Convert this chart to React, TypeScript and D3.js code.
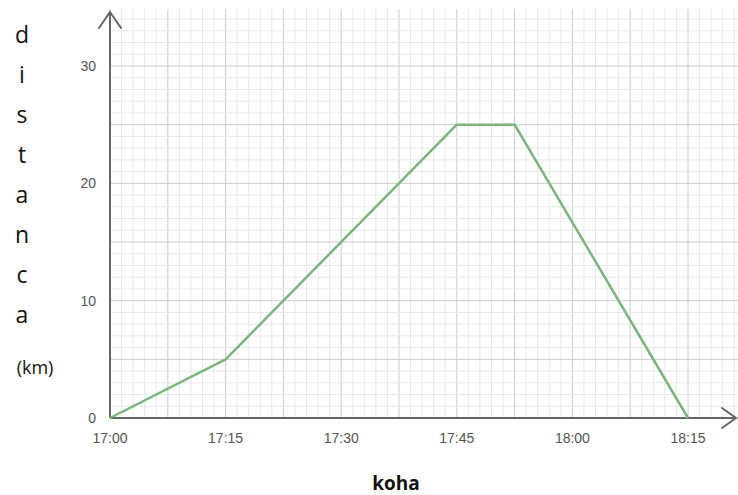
import * as d3 from "d3";
import { useEffect, useRef } from "react";

// minutes after 17:00, distance in km
const minutes = [0, 15, 45, 52.5, 75];
const distance = [0, 5, 25, 25, 0];
const xTicks = [0, 15, 30, 45, 60, 75];
const xTickLabels = ["17:00", "17:15", "17:30", "17:45", "18:00", "18:15"];
const yTicks = [0, 10, 20, 30];
const yLetters = ["d", "i", "s", "t", "a", "n", "c", "a"];

export default function App() {
  const ref = useRef<SVGSVGElement>(null);

  useEffect(() => {
    if (!ref.current) return;
    const el = ref.current;
    d3.select(el).selectAll("*").remove();

    const W = 738;
    const H = 495;
    const svg = d3.select(el).attr("width", W).attr("height", H);
    svg.append("rect").attr("width", W).attr("height", H).attr("fill", "#fff");

    const x = d3.scaleLinear().domain([0, 75]).range([110, 688]);
    const y = d3.scaleLinear().domain([0, 30]).range([418, 66]);
    const xMax = x.invert(738);
    const yMax = y.invert(9);

    // Grid
    const grid = svg.append("g");
    const vMinor = d3.range(0, xMax, 1.5);
    const hMinor = d3.range(0, yMax, 1);
    grid
      .selectAll(".vmin")
      .data(vMinor)
      .join("line")
      .attr("x1", d => x(d))
      .attr("x2", d => x(d))
      .attr("y1", y(0))
      .attr("y2", y(yMax))
      .attr("stroke", d => (Math.abs(d / 7.5 - Math.round(d / 7.5)) < 1e-6 ? "#cccccc" : "#e8e8e8"))
      .attr("stroke-width", 1);
    grid
      .selectAll(".hmin")
      .data(hMinor)
      .join("line")
      .attr("x1", x(0))
      .attr("x2", 738)
      .attr("y1", d => y(d))
      .attr("y2", d => y(d))
      .attr("stroke", d => (d % 5 === 0 ? "#cccccc" : "#e8e8e8"))
      .attr("stroke-width", 1);

    // Axes with arrows
    const axis = svg.append("g").attr("stroke", "#666").attr("stroke-width", 2).attr("fill", "none");
    axis.append("line").attr("x1", x(0)).attr("x2", 736).attr("y1", y(0)).attr("y2", y(0));
    axis.append("line").attr("x1", x(0)).attr("x2", x(0)).attr("y1", y(0)).attr("y2", 12);
    axis
      .append("path")
      .attr("d", `M${x(0) - 11},28 L${x(0)},12 L${x(0) + 11},28`)
      .attr("stroke-linecap", "round");
    axis
      .append("path")
      .attr("d", `M722,${y(0) - 10} L736,${y(0)} L722,${y(0) + 10}`)
      .attr("stroke-linecap", "round");

    // Tick labels
    svg
      .append("g")
      .selectAll("text")
      .data(yTicks)
      .join("text")
      .attr("x", x(0) - 14)
      .attr("y", d => y(d) + 5)
      .attr("text-anchor", "end")
      .attr("font-family", "Arial, 'Liberation Sans', sans-serif")
      .attr("font-size", 14)
      .attr("fill", "#555")
      .text(d => d);
    svg
      .append("g")
      .selectAll("text")
      .data(xTicks)
      .join("text")
      .attr("x", d => x(d))
      .attr("y", y(0) + 25)
      .attr("text-anchor", "middle")
      .attr("font-family", "Arial, 'Liberation Sans', sans-serif")
      .attr("font-size", 14)
      .attr("fill", "#555")
      .text((d, i) => xTickLabels[i]);

    // Data line
    const pts = minutes.map((m, i) => [m, distance[i]] as [number, number]);
    svg
      .append("path")
      .datum(pts)
      .attr("fill", "none")
      .attr("stroke", "#7db37c")
      .attr("stroke-width", 2.5)
      .attr("stroke-linejoin", "round")
      .attr("d", d3.line<[number, number]>().x(d => x(d[0])).y(d => y(d[1])));

    // Axis titles
    svg
      .append("g")
      .selectAll("text")
      .data(yLetters)
      .join("text")
      .attr("x", 22)
      .attr("y", (d, i) => 43 + i * 40)
      .attr("text-anchor", "middle")
      .attr("font-family", "'Open Sans', 'DejaVu Sans', sans-serif")
      .attr("font-size", 23)
      .attr("fill", "#111")
      .text(d => d);
    svg
      .append("text")
      .attr("x", 35)
      .attr("y", 374)
      .attr("text-anchor", "middle")
      .attr("font-family", "'Open Sans', 'DejaVu Sans', sans-serif")
      .attr("font-size", 18)
      .attr("fill", "#111")
      .text("(km)");
    svg
      .append("text")
      .attr("x", 396)
      .attr("y", 490)
      .attr("text-anchor", "middle")
      .attr("font-family", "'Open Sans', 'DejaVu Sans', sans-serif")
      .attr("font-weight", 700)
      .attr("font-size", 19)
      .attr("fill", "#111")
      .text("koha");
  }, []);

  return <svg ref={ref} style={{ position: "absolute", left: 0, top: 0, display: "block" }} />;
}
